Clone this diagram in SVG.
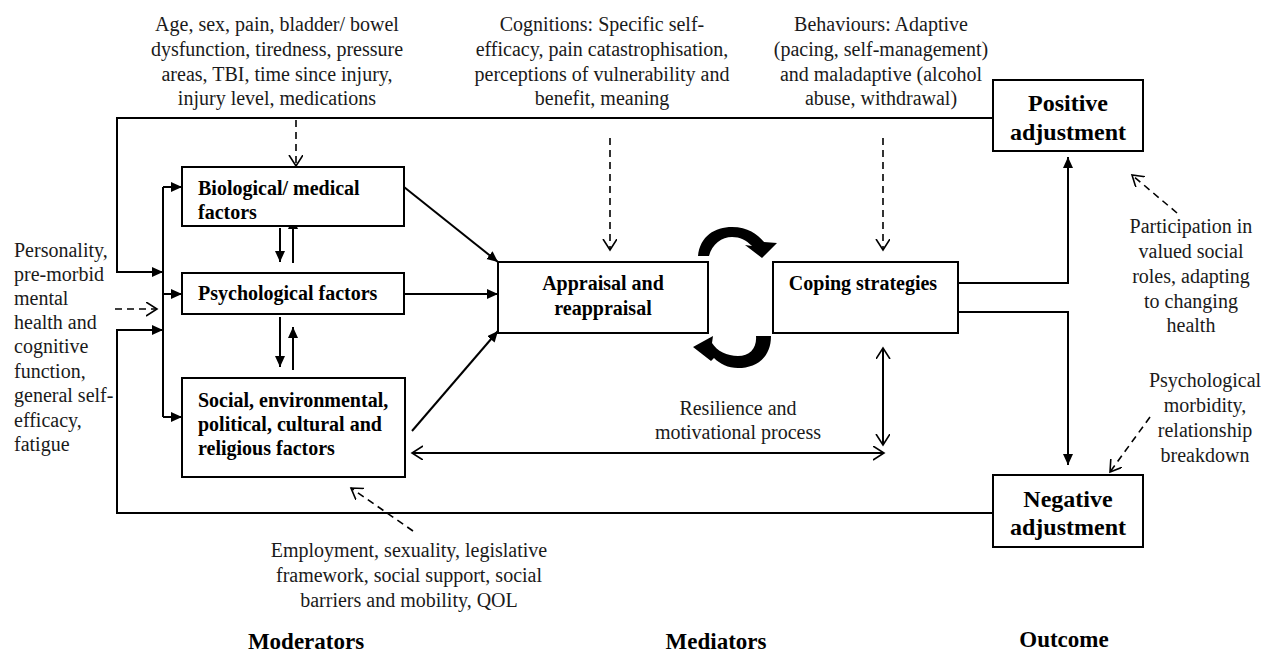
<svg xmlns="http://www.w3.org/2000/svg" width="1261" height="656" viewBox="0 0 1261 656">
<style>
.box{fill:#fff;stroke:#000;stroke-width:2}
.ln{fill:none;stroke:#000;stroke-width:2}
.ds{fill:none;stroke:#000;stroke-width:1.6;stroke-dasharray:7 5}
.t{font-family:"Liberation Serif","Times New Roman",serif;font-size:20px;fill:#1a1a1a}
.b{font-family:"Liberation Serif","Times New Roman",serif;font-size:20px;font-weight:bold;fill:#000}
.bl{font-family:"Liberation Serif","Times New Roman",serif;font-size:24px;font-weight:bold;fill:#000}
.h{font-family:"Liberation Serif","Times New Roman",serif;font-size:23px;font-weight:bold;fill:#000}
.m{text-anchor:middle}
</style>
<defs>
<marker id="af" markerUnits="userSpaceOnUse" markerWidth="12" markerHeight="12" refX="11" refY="5" orient="auto-start-reverse" viewBox="0 0 12 12">
<path d="M0,0 L11,5 L0,10 Z" fill="#000"/>
</marker>
<marker id="ao" markerUnits="userSpaceOnUse" markerWidth="14" markerHeight="16" refX="11" refY="7" orient="auto-start-reverse" viewBox="0 0 14 16">
<path d="M0,0 L11,7 L0,14" fill="none" stroke="#000" stroke-width="1.6"/>
</marker>
</defs>

<g id="connectors">
<path class="ln" d="M993,118 L117,118 L117,272 L163,272" marker-end="url(#af)"/>
<path class="ln" d="M993,513 L117,513 L117,330 L163,330" marker-end="url(#af)"/>
<path class="ln" d="M163,187 L163,417"/>
<path class="ln" d="M163,187 L182,187" marker-end="url(#af)"/>
<path class="ln" d="M163,294 L182,294" marker-end="url(#af)"/>
<path class="ln" d="M163,417 L182,417" marker-end="url(#af)"/>
<path class="ln" d="M280,228 L280,262" marker-end="url(#af)"/>
<path class="ln" d="M293,263 L293,218" marker-end="url(#af)"/>
<path class="ln" d="M280,317 L280,367" marker-end="url(#af)"/>
<path class="ln" d="M293,370 L293,327" marker-end="url(#af)"/>
<path class="ln" d="M404,187 L498,262" marker-end="url(#af)"/>
<path class="ln" d="M404,294 L498,294" marker-end="url(#af)"/>
<path class="ln" d="M412,431 L498,331" marker-end="url(#af)"/>
<path class="ln" d="M412,453 L884,453" marker-start="url(#ao)" marker-end="url(#ao)"/>
<path class="ln" d="M883,348 L883,445" marker-start="url(#ao)" marker-end="url(#ao)"/>
<path class="ln" d="M958,283 L1068,283 L1068,157" marker-end="url(#af)"/>
<path class="ln" d="M958,312 L1068,312 L1068,465" marker-end="url(#af)"/>
<path class="ds" d="M296,120 L296,166" marker-end="url(#ao)"/>
<path class="ds" d="M610,138 L610,250" marker-end="url(#ao)"/>
<path class="ds" d="M883,138 L883,250" marker-end="url(#ao)"/>
<path class="ds" d="M115,309 L157,309" marker-end="url(#ao)"/>
<path class="ds" d="M413,531 L351,488" marker-end="url(#ao)"/>
<path class="ds" d="M1177,213 L1132,175" marker-end="url(#ao)"/>
<path class="ds" d="M1150,417 L1110,472" marker-end="url(#ao)"/>
<path d="M698,256 C700,236 715,227 732,227 C748,227 757,234 764,242 L777,243 L762,258 L745,245 L752,246 C746,240 740,237 732,237 C722,237 712,244 709,256 Z" fill="#000"/>
<path d="M771,336 C771,358 756,368 738,368 C728,368 720,364 714,358 L711,361 L693,347 L713,336 L712,343 C717,351 727,356 738,356 C750,356 757,348 756,336 Z" fill="#000"/>
</g>

<g id="bio">
<rect class="box" x="182" y="167" width="222" height="59"/>
<text class="b" x="198" y="195">Biological/ medical</text>
<text class="b" x="198" y="219">factors</text>
</g>
<g id="psych">
<rect class="box" x="182" y="273" width="222" height="41"/>
<text class="b" x="198" y="300">Psychological factors</text>
</g>
<g id="social">
<rect class="box" x="182" y="378" width="223" height="99"/>
<text class="b" x="198" y="407">Social, environmental,</text>
<text class="b" x="198" y="431">political, cultural and</text>
<text class="b" x="198" y="455">religious factors</text>
</g>
<g id="appraisal">
<rect class="box" x="498" y="262" width="210" height="71"/>
<text class="b m" x="603" y="290">Appraisal and</text>
<text class="b m" x="603" y="315">reappraisal</text>
</g>
<g id="coping">
<rect class="box" x="773" y="262" width="185" height="71"/>
<text class="b m" x="863" y="290">Coping strategies</text>
</g>
<g id="positive">
<rect class="box" x="993" y="80" width="150" height="71"/>
<text class="bl m" x="1068" y="111">Positive</text>
<text class="bl m" x="1068" y="140">adjustment</text>
</g>
<g id="negative">
<rect class="box" x="993" y="475" width="150" height="72"/>
<text class="bl m" x="1068" y="507">Negative</text>
<text class="bl m" x="1068" y="535">adjustment</text>
</g>

<g id="label-bio-factors">
<text class="t m" x="277" y="31">Age, sex, pain, bladder/ bowel</text>
<text class="t m" x="277" y="56">dysfunction,  tiredness, pressure</text>
<text class="t m" x="277" y="81">areas, TBI, time since injury,</text>
<text class="t m" x="277" y="105">injury level, medications</text>
</g>
<g id="label-cognitions">
<text class="t m" x="602" y="31">Cognitions: Specific self-</text>
<text class="t m" x="602" y="56">efficacy, pain  catastrophisation,</text>
<text class="t m" x="602" y="81">perceptions of vulnerability and</text>
<text class="t m" x="602" y="105">benefit, meaning</text>
</g>
<g id="label-behaviours">
<text class="t m" x="881" y="31">Behaviours: Adaptive</text>
<text class="t m" x="881" y="56">(pacing, self-management)</text>
<text class="t m" x="881" y="81">and maladaptive (alcohol</text>
<text class="t m" x="881" y="105">abuse, withdrawal)</text>
</g>
<g id="label-personality">
<text class="t" x="14" y="257">Personality,</text>
<text class="t" x="14" y="281">pre-morbid</text>
<text class="t" x="14" y="305">mental</text>
<text class="t" x="14" y="329">health and</text>
<text class="t" x="14" y="353">cognitive</text>
<text class="t" x="14" y="378">function,</text>
<text class="t" x="14" y="402">general self-</text>
<text class="t" x="14" y="427">efficacy,</text>
<text class="t" x="14" y="451">fatigue</text>
</g>
<g id="label-social-factors">
<text class="t m" x="409" y="557">Employment, sexuality, legislative</text>
<text class="t m" x="409" y="582">framework, social support, social</text>
<text class="t m" x="409" y="607">barriers and mobility, QOL</text>
</g>
<g id="label-resilience">
<text class="t m" x="738" y="415">Resilience and</text>
<text class="t m" x="738" y="439">motivational process</text>
</g>
<g id="label-participation">
<text class="t m" x="1191" y="233">Participation in</text>
<text class="t m" x="1191" y="258">valued social</text>
<text class="t m" x="1191" y="283">roles,  adapting</text>
<text class="t m" x="1191" y="308">to changing</text>
<text class="t m" x="1191" y="332">health</text>
</g>
<g id="label-morbidity">
<text class="t m" x="1205" y="387">Psychological</text>
<text class="t m" x="1205" y="412">morbidity,</text>
<text class="t m" x="1205" y="437">relationship</text>
<text class="t m" x="1205" y="462">breakdown</text>
</g>
<g id="section-labels">
<text class="h m" x="306" y="649">Moderators</text>
<text class="h m" x="716" y="649">Mediators</text>
<text class="h m" x="1064" y="647">Outcome</text>
</g>
</svg>
